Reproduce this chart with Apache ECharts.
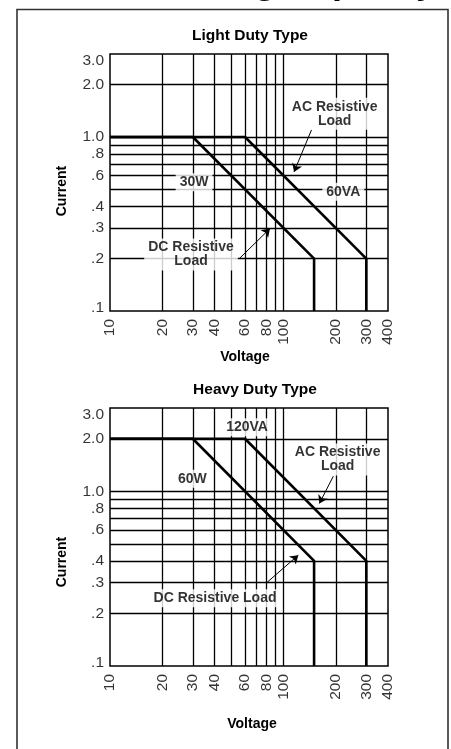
<!DOCTYPE html>
<html><head><meta charset="utf-8">
<script src="https://cdn.jsdelivr.net/npm/echarts@6/dist/echarts.min.js"></script>
<style>html,body{margin:0;padding:0;background:#fff}#c{width:451px;height:749px}</style>
</head><body><div id="c"></div>
<script>
// ---- data ----
const xTickValues = [10, 20, 30, 40, 60, 80, 100, 200, 300, 400];
const xTickLabels = ['10', '20', '30', '40', '60', '80', '100', '200', '300', '400'];
const yTickValues = [3, 2, 1, 0.8, 0.6, 0.4, 0.3, 0.2, 0.1];
const yTickLabels = ['3.0', '2.0', '1.0', '.8', '.6', '.4', '.3', '.2', '.1'];
const xGridValues = [20, 30, 40, 50, 60, 70, 80, 90, 100, 200, 300];
const yGridValues = [2, 1, 0.9, 0.8, 0.7, 0.6, 0.5, 0.4, 0.3, 0.2];

const lightDC = [[10, 1], [30, 1], [150, 0.2], [150, 0.1]];
const lightAC = [[10, 1], [60, 1], [300, 0.2], [300, 0.1]];
const heavyDC = [[10, 2], [30, 2], [150, 0.4], [150, 0.1]];
const heavyAC = [[10, 2], [60, 2], [300, 0.4], [300, 0.1]];

// annotations (anchored in data coordinates)
const lightNotes = [
  { text: '30W', at: [30.5, 0.55] },
  { text: '60VA', at: [221, 0.485] },
  { text: 'AC Resistive\nLoad', at: [197, 1.36] },
  { text: 'DC Resistive\nLoad', at: [29.3, 0.211] }
];
const lightArrows = [
  { from: [145, 1.10], to: [115, 0.63] },
  { from: [55.6, 0.2], to: [83.6, 0.298] }
];
const heavyNotes = [
  { text: '120VA', at: [61.6, 2.33] },
  { text: 'AC Resistive\nLoad', at: [205, 1.52] },
  { text: '60W', at: [29.8, 1.18] },
  { text: 'DC Resistive Load', at: [40.3, 0.244] }
];
const heavyArrows = [
  { from: [193.6, 1.22], to: [160.9, 0.852] },
  { from: [80, 0.3], to: [121.7, 0.431] }
];

const FONT = 'Liberation Sans, Arial, Helvetica, sans-serif';

function axisDefs(gi, min, max) {
  return {
    type: 'log', logBase: 10, gridIndex: gi, min: min, max: max,
    axisLine: { show: false }, axisTick: { show: false },
    axisLabel: { show: false }, splitLine: { show: false }
  };
}

function chartSeries(gi, dc, ac, notes, arrows) {
  const gridLines = [];
  xGridValues.forEach(v => gridLines.push({ xAxis: v }));
  yGridValues.forEach(v => gridLines.push({ yAxis: v }));
  const curveStyle = { color: '#000', width: 2.6 };
  return [
    {
      type: 'line', xAxisIndex: gi, yAxisIndex: gi, data: dc, symbol: 'none',
      lineStyle: curveStyle, z: 3, silent: true,
      markLine: {
        silent: true, symbol: 'none', z: 1, animation: false,
        label: { show: false },
        lineStyle: { color: '#000', width: 1.3, type: 'solid' },
        emphasis: { disabled: true },
        data: gridLines
      }
    },
    {
      type: 'line', xAxisIndex: gi, yAxisIndex: gi, data: ac, symbol: 'none',
      lineStyle: curveStyle, z: 3, silent: true,
      markLine: {
        silent: true, symbol: ['none', 'arrow'], symbolSize: 8, z: 6, animation: false,
        label: { show: false },
        lineStyle: { color: '#000', width: 1, type: 'solid' },
        itemStyle: { color: '#000' },
        emphasis: { disabled: true },
        data: arrows.map(a => [{ coord: a.from }, { coord: a.to }])
      }
    },
    {
      type: 'scatter', xAxisIndex: gi, yAxisIndex: gi, symbolSize: 0, clip: false, z: 8, silent: true,
      data: xTickValues.map(v => [v, 0.1]),
      label: {
        show: true, position: 'bottom', distance: 8, rotate: 90,
        align: 'right', verticalAlign: 'middle',
        formatter: p => xTickLabels[p.dataIndex],
        fontSize: 15.5, color: '#000', fontFamily: FONT, textBorderWidth: 0
      }
    },
    {
      type: 'scatter', xAxisIndex: gi, yAxisIndex: gi, symbolSize: 0, clip: false, z: 8, silent: true,
      data: yTickValues.map((v, i) => {
        const item = { value: [10, v] };
        if (i === 0) item.label = { offset: [0, 7] };
        if (i === yTickValues.length - 1) item.label = { offset: [0, -3] };
        return item;
      }),
      label: {
        show: true, position: 'left', distance: 6,
        align: 'right', verticalAlign: 'middle',
        formatter: p => yTickLabels[p.dataIndex],
        fontSize: 15.5, color: '#000', fontFamily: FONT, textBorderWidth: 0
      }
    },
    {
      type: 'scatter', xAxisIndex: gi, yAxisIndex: gi, symbolSize: 0, clip: false, z: 10, silent: true,
      data: notes.map(n => n.at),
      label: {
        show: true, position: 'inside',
        formatter: p => notes[p.dataIndex].text,
        fontSize: 14, lineHeight: 14, fontWeight: 'bold', color: '#000', fontFamily: FONT,
        textBorderWidth: 0, textBorderColor: 'transparent',
        backgroundColor: '#fff', padding: [2, 4], align: 'center', verticalAlign: 'middle'
      }
    }
  ];
}

function txt(text, x, y, size, rot) {
  return {
    type: 'text', x: x, y: y, rotation: rot || 0, z: 20, silent: true,
    style: {
      text: text, fill: '#000', font: 'bold ' + size + 'px ' + FONT,
      textAlign: 'center', textVerticalAlign: 'middle', align: 'center', verticalAlign: 'middle'
    }
  };
}

const chart = echarts.init(document.getElementById('c'), null, { renderer: 'canvas' });
chart.setOption({
  animation: false,
  backgroundColor: '#fff',
  grid: [
    { left: 110, top: 54, width: 278, height: 257, show: true, borderColor: '#000', borderWidth: 1.5, backgroundColor: 'transparent' },
    { left: 110, top: 408, width: 278, height: 258, show: true, borderColor: '#000', borderWidth: 1.5, backgroundColor: 'transparent' }
  ],
  xAxis: [axisDefs(0, 10, 400), axisDefs(1, 10, 400)],
  yAxis: [axisDefs(0, 0.1, 3), axisDefs(1, 0.1, 3)],
  series: [].concat(
    chartSeries(0, lightDC, lightAC, lightNotes, lightArrows),
    chartSeries(1, heavyDC, heavyAC, heavyNotes, heavyArrows)
  ),
  graphic: [
    { type: 'rect', silent: true, z: 0, shape: { x: 17, y: 9.5, width: 431, height: 760 },
      style: { fill: 'none', stroke: '#333', lineWidth: 1.6 } },
    {
      type: 'text', x: 436, y: -17, z: 20, silent: true,
      style: { text: 'Switching Capacity', fill: '#000', font: 'bold 36px ' + FONT,
        textAlign: 'right', textVerticalAlign: 'middle', align: 'right', verticalAlign: 'middle' }
    },
    txt('Light Duty Type', 250, 36, 15.5),
    txt('Heavy Duty Type', 255, 390, 15.5),
    txt('Current', 62, 191, 14, Math.PI / 2),
    txt('Current', 62, 562, 14, Math.PI / 2),
    txt('Voltage', 245, 357, 14),
    txt('Voltage', 252, 724, 14)
  ]
});
</script>
</body></html>
